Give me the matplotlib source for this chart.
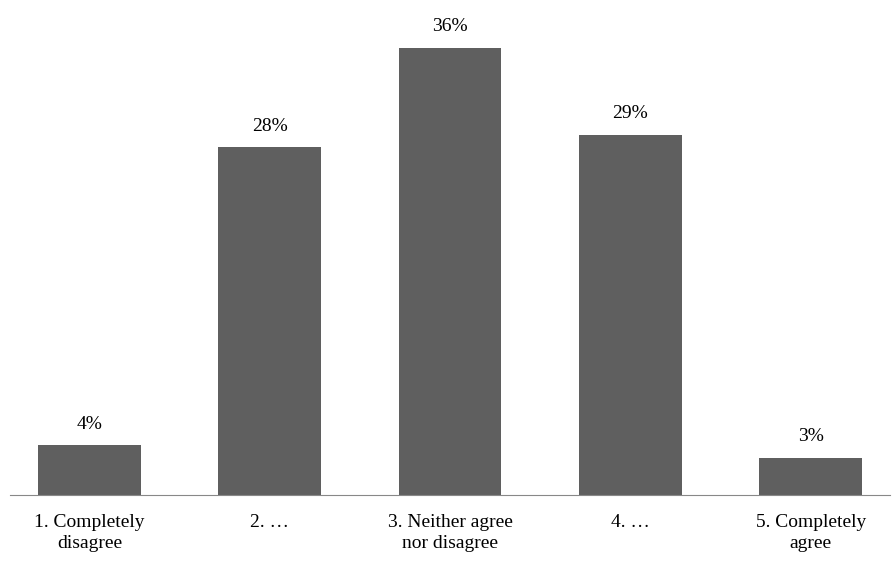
import matplotlib
matplotlib.use("Agg")
import matplotlib.pyplot as plt

categories = ["1. Completely\ndisagree", "2. \u2026", "3. Neither agree\nnor disagree", "4. \u2026", "5. Completely\nagree"]
values = [4, 28, 36, 29, 3]

plt.rcParams['font.family'] = ['Liberation Serif', 'DejaVu Serif']

fig = plt.figure(figsize=(8.92, 5.84), dpi=100)
ax = fig.add_axes([10 / 892, 89 / 584, 880 / 892, 495 / 584])
x = range(len(values))
ax.bar(x, values, width=0.57, color="#5f5f5f")
for xi, v in zip(x, values):
    ax.text(xi, v + 1.0, "%d%%" % v, ha="center", va="bottom", fontsize=14)

ax.set_xlim(-0.44, 4.44)
ax.set_ylim(0, 39.85)
ax.set_xticks(list(x))
ax.set_xticklabels(categories, fontsize=14, linespacing=1.3)
ax.tick_params(axis="x", length=0, pad=14)
ax.set_yticks([])
for s in ["top", "right", "left"]:
    ax.spines[s].set_visible(False)
ax.spines["bottom"].set_color("#888888")

fig.savefig("out.png")
